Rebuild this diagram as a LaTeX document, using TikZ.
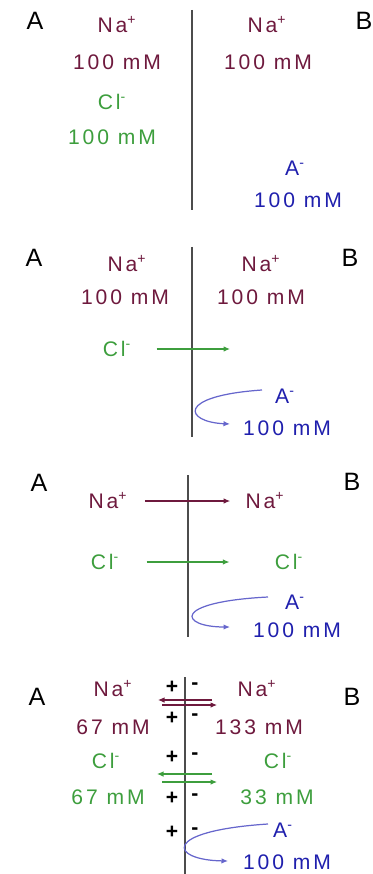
\documentclass[tikz,border=0pt]{standalone}
\usepackage{fontspec}
\setmainfont{Liberation Sans}
\newfontfamily\ionfont[LetterSpace=14]{Liberation Sans}
\usetikzlibrary{arrows.meta, positioning}
\definecolor{SodiumRed}{rgb}{0.43, 0.10, 0.24}
\definecolor{ChlorideGreen}{rgb}{0.24, 0.62, 0.24}
\definecolor{AnionBlue}{rgb}{0.12, 0.12, 0.68}
\definecolor{CurveBlue}{rgb}{0.40, 0.40, 0.80}
\definecolor{MembraneGray}{rgb}{0.30, 0.30, 0.30}

\begin{document}
\begin{tikzpicture}[
    x=0.02cm, y=-0.02cm,
    ion/.style={font=\ionfont\fontsize{12}{14}\selectfont,
        text height=8.6pt, text depth=0pt, inner sep=0pt},
    na/.style={ion, text=SodiumRed},
    cl/.style={ion, text=ChlorideGreen},
    anion/.style={ion, text=AnionBlue},
    side/.style={font=\fontsize{14.3}{16}\selectfont,
        text height=10.2pt, text depth=0pt, inner sep=0pt},
    charge/.style={font=\bfseries\fontsize{12}{14}\selectfont, inner sep=0pt},
    membrane/.style={draw=MembraneGray, line width=0.85pt},
    flow/.style={-{Latex[length=1.3mm, width=1.1mm]}, line width=0.6pt},
    uturn/.style={-{Latex[length=1.3mm, width=1.1mm]}, line width=0.7pt, CurveBlue},
]
\useasboundingbox (0,0) rectangle (372,874);

% 1: Anfangszustand
\node[side] (a1) at (35,21) {A};
\node[side] (b1) at (364,21) {B};
\draw[membrane] (192,10) -- (192,210);
\node[na] (na1l) at (117,25) {Na\textsuperscript{+}};
\node[na] (cna1l) at (117,62) {100 mM};
\node[cl] (cl1l) at (112,102) {Cl\textsuperscript{-}};
\node[cl] (ccl1l) at (112,137) {100 mM};
\node[na] (na1r) at (267,25) {Na\textsuperscript{+}};
\node[na] (cna1r) at (268,62) {100 mM};
\node[anion] (an1r) at (295,168) {A\textsuperscript{-}};
\node[anion] (can1r) at (298,200) {100 mM};

% 2: Cl- diffundiert
\node[side] (a2) at (34,258) {A};
\node[side] (b2) at (350,258) {B};
\draw[membrane] (192,247) -- (192,437);
\node[na] (na2l) at (127,264) {Na\textsuperscript{+}};
\node[na] (cna2l) at (125,297) {100 mM};
\node[na] (na2r) at (261,264) {Na\textsuperscript{+}};
\node[na] (cna2r) at (261,297) {100 mM};
\node[cl] (cl2l) at (117,349) {Cl\textsuperscript{-}};
\coordinate (cl2end) at (230,349);
\draw[flow, ChlorideGreen, shorten <=0.5cm] (cl2l) -- (cl2end);
\node[anion] (an2r) at (285,396) {A\textsuperscript{-}};
\node[anion] (can2r) at (287,428) {100 mM};
\coordinate (u2s) at (262,390);
\coordinate (u2e) at (230,424);
\draw[uturn] (u2s) .. controls (175,396) and (185,422) .. (u2e);

% 3: Na+ folgt
\node[side] (a3) at (39,483) {A};
\node[side] (b3) at (352,482) {B};
\draw[membrane] (188,475) -- (188,637);
\node[na] (na3l) at (108,501) {Na\textsuperscript{+}};
\node[na] (na3r) at (265,501) {Na\textsuperscript{+}};
\draw[flow, SodiumRed, shorten <=0.34cm, shorten >=0.3cm] (na3l) -- (na3r);
\node[cl] (cl3l) at (105,562) {Cl\textsuperscript{-}};
\node[cl] (cl3r) at (289,562) {Cl\textsuperscript{-}};
\draw[flow, ChlorideGreen, shorten <=0.54cm, shorten >=0.9cm] (cl3l) -- (cl3r);
\node[anion] (an3r) at (295,602) {A\textsuperscript{-}};
\node[anion] (can3r) at (297,630) {100 mM};
\coordinate (u3s) at (268,597);
\coordinate (u3e) at (230,627);
\draw[uturn] (u3s) .. controls (170,602) and (180,627) .. (u3e);

% 4: Gleichgewicht
\node[side] (a4) at (37,697) {A};
\node[side] (b4) at (352,697) {B};
\draw[membrane] (185,677) -- (185,874);
\node[na] (na4l) at (113,689) {Na\textsuperscript{+}};
\node[na] (cna4l) at (113,727) {67 mM};
\node[cl] (cl4l) at (106,761) {Cl\textsuperscript{-}};
\node[cl] (ccl4l) at (108,797) {67 mM};
\node[na] (na4r) at (257,689) {Na\textsuperscript{+}};
\node[na] (cna4r) at (259,727) {133 mM};
\node[cl] (cl4r) at (278,761) {Cl\textsuperscript{-}};
\node[cl] (ccl4r) at (277,797) {33 mM};
\node[anion] (an4r) at (283,830) {A\textsuperscript{-}};
\node[anion] (can4r) at (287,862) {100 mM};

\foreach \y [count=\i] in {687, 718, 757, 798, 832} {
    \node[charge] (plus\i) at (172,\y) {+};
    \node[charge] (minus\i) at (195,\y-1) {-};
}

\coordinate (nab1) at (212,700); \coordinate (nab2) at (158,700);
\coordinate (naf1) at (162,705); \coordinate (naf2) at (217,705);
\coordinate (clb1) at (212,774); \coordinate (clb2) at (157,774);
\coordinate (clf1) at (162,782); \coordinate (clf2) at (217,782);
\foreach \a/\b in {nab1/nab2, naf1/naf2} \draw[flow, SodiumRed] (\a) -- (\b);
\foreach \a/\b in {clb1/clb2, clf1/clf2} \draw[flow, ChlorideGreen] (\a) -- (\b);

\coordinate (u4s) at (268,824);
\coordinate (u4e) at (228,861);
\draw[uturn] (u4s) .. controls (160,831) and (170,860) .. (u4e);

\end{tikzpicture}
\end{document}
